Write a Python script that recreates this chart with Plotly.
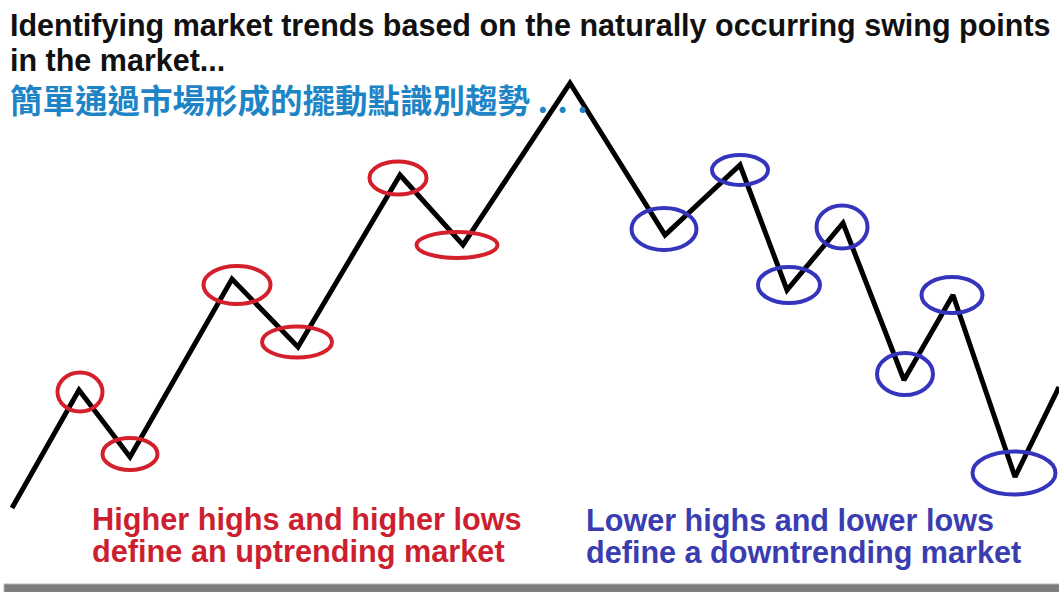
import plotly.graph_objects as go

# swing points of the zigzag (x position, price level; price = 592 - pixel row)
swing_x = [12, 79, 130, 232, 298, 400, 463, 570, 665, 740, 787, 843, 904, 953, 1015, 1059]
swing_price = [84, 202, 135, 313, 245, 417, 347, 509, 357, 427, 302, 369, 212, 297, 115, 205]

# which swing points get a ring, and in which colour
up_ring_idx = [1, 2, 3, 4, 5, 6]
down_ring_idx = [8, 9, 10, 11, 12, 13, 14]

title_lines = [
    "Identifying market trends based on the naturally occurring swing points",
    "in the market...",
]
title_cn = "簡單通過市場形成的擺動點識別趨勢 .\u200a .\u200a ."
up_text = ["Higher highs and higher lows", "define an uptrending market"]
down_text = ["Lower highs and lower lows", "define a downtrending market"]

W, H = 1059, 592
red = '#d4202c'
blue = '#3434bc'

# ring sizes (w, h) and shift of ring centre from the swing point
up_ring_size = [(45, 39), (55, 32), (67, 38), (70, 31), (57, 33), (81, 26)]
up_ring_shift = [-2, 3, -6, 5, -3, 0]
up_ring_dx = [1, 0, 5, -1, -2, -6]
down_ring_size = [(65, 42), (56, 30), (62, 36), (51, 43), (56, 42), (61, 36), (83, 43)]
down_ring_shift = [6, -5, 5, -4, 6, 0, 4]
down_ring_dx = [-1, 0, 2, -1, 1, -1, -1]

fig = go.Figure()

fig.add_trace(go.Scatter(x=swing_x, y=swing_price, mode='lines', hoverinfo='none', showlegend=False,
                         line=dict(color='black', width=5)))


def add_rings(idx_list, sizes, shifts, dxs, color):
    for i, (w, h), dy, dx in zip(idx_list, sizes, shifts, dxs):
        cx = swing_x[i] + dx
        cy = swing_price[i] + dy
        fig.add_shape(type='circle', xref='x', yref='y',
                      x0=cx - w / 2, x1=cx + w / 2, y0=cy - h / 2, y1=cy + h / 2,
                      line=dict(color=color, width=4))


add_rings(up_ring_idx, up_ring_size, up_ring_shift, up_ring_dx, red)
add_rings(down_ring_idx, down_ring_size, down_ring_shift, down_ring_dx, blue)

# bottom grey bar
fig.add_shape(type='rect', xref='x', yref='y', x0=4, x1=W + 5, y0=-5, y1=8,
              fillcolor='#7d7d7d', line=dict(color='#b5b5b5', width=1), layer='above')


def label(text, x, y, color, size, family='Liberation Sans, Arial, sans-serif'):
    fig.add_annotation(text=f'<b>{text}</b>', x=x, y=y, xref='x', yref='y',
                       xanchor='left', yanchor='middle', showarrow=False, borderpad=0,
                       font=dict(family=family, size=size, color=color))


label(title_lines[0], 9, H - 25, '#111111', 30.5)
label(title_lines[1], 9, H - 60, '#111111', 30.5)
label(title_cn, 9, H - 98, '#1d84c6', 32.5, family='Noto Sans CJK TC')
label(up_text[0], 91, H - 519, '#cc1f30', 30.7)
label(up_text[1], 91, H - 551, '#cc1f30', 30.7)
label(down_text[0], 585, H - 520, '#3a3db0', 30.6)
label(down_text[1], 585, H - 552, '#3a3db0', 30.6)

fig.update_xaxes(range=[0, W], visible=False, showgrid=False, zeroline=False)
fig.update_yaxes(range=[0, H], visible=False, showgrid=False, zeroline=False)

fig.update_layout(
    width=W, height=H,
    margin=dict(l=0, r=0, t=0, b=0),
    paper_bgcolor='white',
    plot_bgcolor='white',
)

fig.write_html("out.html", config={'displayModeBar': False},
               post_script="document.body.style.margin='0';")
